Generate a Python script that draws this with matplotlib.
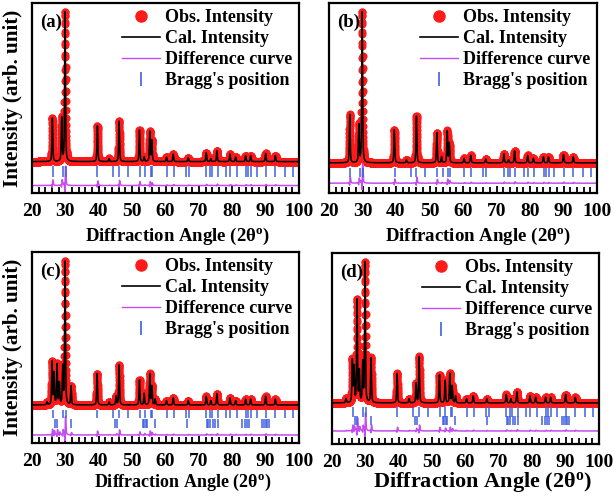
import numpy as np
import matplotlib
matplotlib.use('Agg')
import matplotlib.pyplot as plt
from matplotlib.lines import Line2D
from matplotlib.ticker import MultipleLocator

plt.rcParams['font.family'] = ['Liberation Serif', 'DejaVu Serif']
plt.rcParams['font.weight'] = 'bold'
plt.rcParams['axes.labelweight'] = 'bold'
plt.rcParams['mathtext.fontset'] = 'custom'
plt.rcParams['mathtext.rm'] = 'Liberation Serif:bold'
plt.rcParams['mathtext.it'] = 'Liberation Serif:bold'

# --- peak list: 2theta position, relative height ---
pos_a = [26.1, 28.9, 29.9, 39.6, 43.1, 46.1, 52.2, 53.6, 55.3, 55.9, 60.3, 62.3,
         66.8, 72.2, 73.6, 75.4, 79.3, 81.0, 84.0, 85.5, 90.0, 92.9]
hgt_a = [29, 29, 100, 24, 2, 27, 21, 3, 20, 14, 3, 5,
         2.5, 6, 2, 7.3, 5, 3, 4, 4, 5.5, 4]

pos_b = [26.2, 28.9, 29.9, 39.5, 43.1, 46.1, 52.2, 53.6, 55.3, 55.9, 60.3, 62.3,
         66.8, 72.2, 73.6, 75.4, 79.3, 81.0, 84.0, 85.5, 90.0, 92.9]
hgt_b = [32, 25, 100, 22, 2, 31, 20, 4, 21, 13, 3, 5,
         2.5, 6, 2, 8, 5, 3, 4, 4, 5.5, 4]

pos_c = [24.5, 26.0, 26.6, 27.5, 28.2, 29.2, 29.9, 31.7, 39.5, 43.1, 45.2, 46.1,
         52.2, 53.6, 55.3, 55.9, 56.9, 60.3, 62.3, 66.8, 72.2, 73.6, 75.4, 79.3,
         81.0, 84.0, 85.5, 90.0, 92.9]
hgt_c = [2, 30, 22, 28, 15, 26, 100, 13, 22, 2, 6, 28,
         17.5, 8, 21.6, 13, 4, 3, 5, 3, 6, 3, 8, 5,
         3, 4, 4, 6, 4]

pos_d = [24.2, 26.1, 26.6, 27.5, 28.2, 29.2, 29.9, 31.7, 39.5, 43.1, 45.2, 46.1,
         52.2, 53.9, 55.3, 56.0, 57.0, 60.3, 62.3, 66.4, 72.2, 73.6, 75.4, 79.3,
         81.0, 84.0, 85.5, 90.0, 92.9]
hgt_d = [3, 30, 25, 73, 22, 28, 100, 32, 21, 3, 14, 33,
         20, 16, 21, 12, 5, 3, 5, 3, 6, 3, 8, 5,
         4, 4, 4, 6, 4]

# Bragg reflections: main phase and second phase
bragg_1 = [26.2, 29.2, 30.1, 39.6, 44.4, 46.0, 48.7, 52.3, 53.9, 55.6, 56.0, 60.4,
           62.5, 66.1, 67.0, 72.2, 73.3, 73.9, 75.6, 78.2, 79.4, 81.3, 84.1, 84.7,
           85.7, 87.3, 90.1, 92.9, 95.9, 98.1]
bragg_2 = [26.9, 27.4, 31.7, 45.0, 45.5, 53.3, 53.7, 54.1, 54.5, 56.9, 66.3, 72.3,
           72.8, 73.3, 74.3, 74.8, 75.8, 82.8, 83.8, 84.5, 85.1, 89.0, 89.5, 90.0,
           90.5, 91.0]

panel_labels = ['(a)', '(b)', '(c)', '(d)']
legend_labels = ['Obs. Intensity', 'Cal. Intensity', 'Difference curve', "Bragg's position"]


def profile(x, pos, hgt, w=0.3, shift=0.0):
    y = np.zeros_like(x)
    for p, h in zip(pos, hgt):
        d = (x - p - shift) / (w / 2)
        y += h * (0.5 / (1 + d ** 2) + 0.5 * np.exp(-np.log(2) * d ** 2))
    return y


RED = '#ff1a1a'
MAG = '#c44cf0'
BLUE = '#4060e0'

W, H = 614, 499
fig = plt.figure(figsize=(W / 100, H / 100), dpi=100)

# (left, top, right, bottom) px, ylim, bragg rows, diff offset,
# xlabel size / x position / pad
panels = [
    ((32, 3, 299, 193), (-21, 106), [(-10, -3)], -16, 13.5, 0.543, 4.5),
    ((329, 3, 597, 193), (-20, 106), [(-9.5, -3.3)], -13.5, 13.6, 0.556, 4.5),
    ((32, 252, 299, 443), (-26.6, 107), [(-9, -3.5), (-16, -10)], -21, 13.0, 0.565, 1.5),
    ((332, 253, 599, 444), (-29.3, 107), [(-10, -3), (-16, -9.5)], -20, 16.0, 0.562, -0.5),
]
patterns = [(pos_a, hgt_a), (pos_b, hgt_b), (pos_c, hgt_c), (pos_d, hgt_d)]

x = np.arange(20, 100.001, 0.02)
for i, (box, ylim, rows, doff, xl_size, xl_x, xl_pad) in enumerate(panels):
    pos, hgt = patterns[i]
    l, t, r, b = box
    ax = fig.add_axes([l / W, 1 - b / H, (r - l) / W, (b - t) / H])
    cal = profile(x, pos, hgt)
    obs = profile(x, pos, hgt, w=0.32, shift=0.012)
    ax.plot(x, obs, 'o', color=RED, ms=5.8, mew=0, zorder=2)
    ax.plot(x, cal, '-', color='black', lw=1.1, zorder=3)
    ax.plot(x, doff + 1.5 * (obs - cal), '-', color=MAG, lw=1.1, zorder=2)
    for k, (y0, y1) in enumerate(rows):
        refl = bragg_1 if k == 0 else bragg_2
        ax.vlines(refl, y0, y1, color=BLUE, lw=1.1)
    ax.set_xlim(20, 100)
    ax.set_ylim(*ylim)
    ax.set_yticks([])
    ax.xaxis.set_major_locator(MultipleLocator(10))
    ax.xaxis.set_minor_locator(MultipleLocator(2))
    ax.tick_params(axis='x', which='both', direction='in', width=1.3, labelsize=14, pad=7)
    ax.tick_params(axis='x', which='major', length=5)
    ax.tick_params(axis='x', which='minor', length=4)
    for lab in ax.get_xticklabels():
        lab.set_fontweight('bold')
    for s in ax.spines.values():
        s.set_linewidth(1.6)
    ax.set_xlabel('Diffraction Angle (2θ$^{\\mathrm{o}}$)', fontsize=xl_size,
                  fontweight='bold', labelpad=xl_pad)
    ax.xaxis.label.set_x(xl_x)
    ax.text(0.03, 0.9, panel_labels[i], transform=ax.transAxes, fontsize=13.5,
            ha='left', va='center')
    handles = [Line2D([], [], marker='o', ls='', color=RED, ms=8),
               Line2D([], [], color='black', lw=1.2),
               Line2D([], [], color=MAG, lw=1.0),
               Line2D([], [], marker='|', ls='', color=BLUE, ms=10, mew=1.2)]
    ax.legend(handles, legend_labels, loc='upper right', frameon=False, fontsize=13,
              handlelength=2.1, handletextpad=0.3, labelspacing=0.22,
              borderaxespad=0.15, borderpad=0.2)
    if i % 2 == 0:
        fig.text(13 / W, 1 - (t + b) / 2 / H, 'Intensity (arb. unit)', rotation=90,
                 ha='center', va='center', fontsize=15.2)

fig.savefig('out.png', dpi=100)
